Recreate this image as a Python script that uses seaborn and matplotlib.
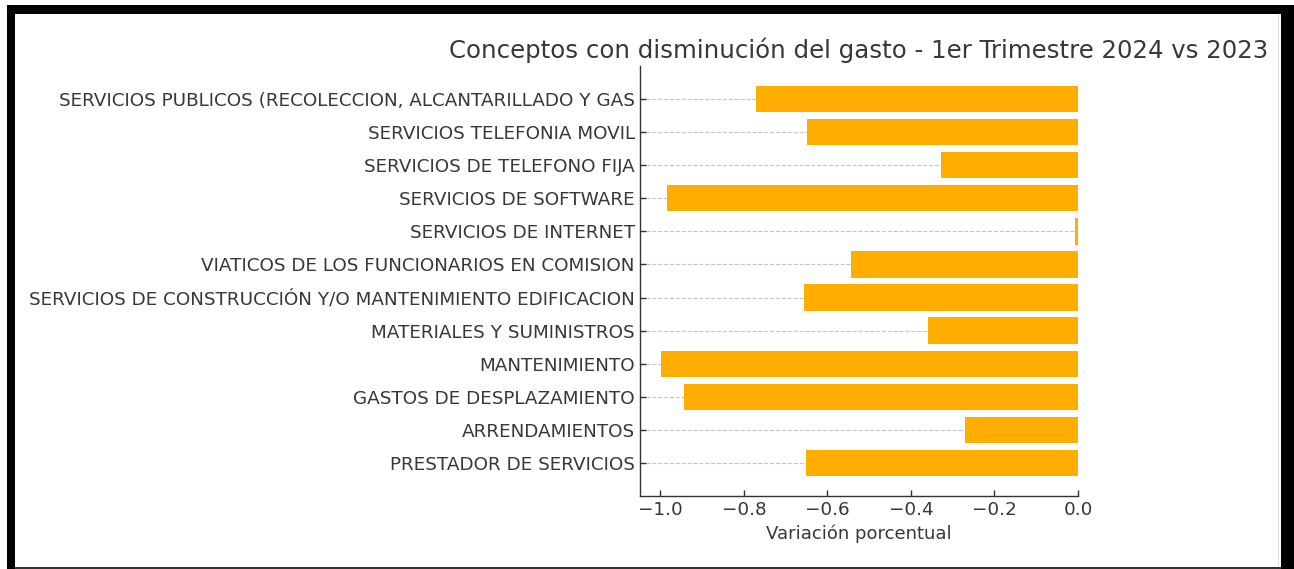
import matplotlib
matplotlib.use("Agg")
import matplotlib.pyplot as plt
import seaborn as sns
import pandas as pd
from matplotlib.patches import Rectangle

categories = [
    "SERVICIOS PUBLICOS (RECOLECCION, ALCANTARILLADO Y GAS",
    "SERVICIOS TELEFONIA MOVIL",
    "SERVICIOS DE TELEFONO FIJA",
    "SERVICIOS DE SOFTWARE",
    "SERVICIOS DE INTERNET",
    "VIATICOS DE LOS FUNCIONARIOS EN COMISION",
    "SERVICIOS DE CONSTRUCCIÓN Y/O MANTENIMIENTO EDIFICACION",
    "MATERIALES Y SUMINISTROS",
    "MANTENIMIENTO",
    "GASTOS DE DESPLAZAMIENTO",
    "ARRENDAMIENTOS",
    "PRESTADOR DE SERVICIOS",
]
variation = [-0.772, -0.649, -0.329, -0.983, -0.006, -0.544,
             -0.657, -0.360, -0.999, -0.943, -0.270, -0.652]

title = "Conceptos con disminución del gasto - 1er Trimestre 2024 vs 2023"
xlabel = "Variación porcentual"

sns.set_theme(style="white")
plt.rcParams["font.family"] = ["DejaVu Sans"]
text_color = "#383838"

df = pd.DataFrame({"Concepto": categories, "Variacion": variation})

W, H = 1294, 569
fig = plt.figure(figsize=(W / 100, H / 100), dpi=100)
fig.patch.set_facecolor("white")
ax = fig.add_axes([639.5 / W, 1 - 496 / H, (1078 - 639.5) / W, (496 - 66) / H])

sns.barplot(data=df, x="Variacion", y="Concepto", orient="h", color="#FFAE00",
            width=0.8, ax=ax, zorder=3, saturation=1, linewidth=0)

ax.set_xlim(-1.05, 0)
ax.set_ylim(len(categories) - 1 + 0.99, -0.99)
ax.set_xticks([-1.0, -0.8, -0.6, -0.4, -0.2, 0.0])
ax.grid(axis="y", linestyle="--", color="#c4c4c4", linewidth=0.8, zorder=0)
ax.grid(axis="x", visible=False)
for s in ["top", "right"]:
    ax.spines[s].set_visible(False)
for s in ["left", "bottom"]:
    ax.spines[s].set_color("#333333")
    ax.spines[s].set_linewidth(1.0)
ax.tick_params(axis="both", direction="in", length=4, width=1, color="#333333",
               labelsize=13.2, labelcolor=text_color, left=True, bottom=True)
ax.set_ylabel("")
ax.set_xlabel(xlabel, fontsize=13, color=text_color, labelpad=4)
ax.set_title(title, fontsize=17.6, color=text_color, pad=6)

# screenshot frame
def frame(x0, y0, x1, y1, color):
    fig.add_artist(Rectangle((x0 / W, 1 - y1 / H), (x1 - x0) / W, (y1 - y0) / H,
                             transform=fig.transFigure, facecolor=color,
                             edgecolor="none", zorder=10))

frame(7, 5, 1294, 14, "black")
frame(7, 5, 15, 569, "black")
frame(1281, 5, 1294, 569, "black")
frame(15, 566.5, 1281, 569, "#333333")
frame(1278, 14, 1279, 566, "#dddddd")

fig.savefig("out.png", dpi=100)
